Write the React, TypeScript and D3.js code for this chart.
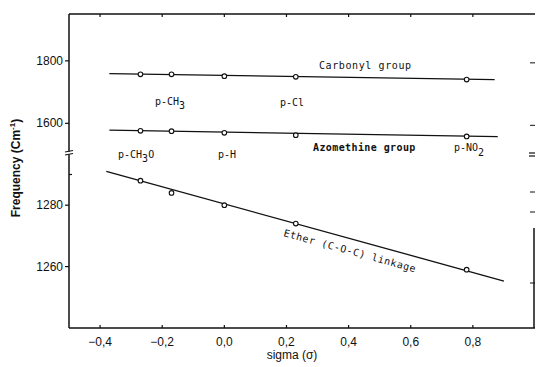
import React from 'react';
import * as d3 from 'd3';

// Hammett sigma constants of the substituents
const substituents = ['p-CH3O', 'p-CH3', 'p-H', 'p-Cl', 'p-NO2'];
const sigma = [-0.27, -0.17, 0.0, 0.23, 0.78];

// frequencies (cm-1)
const carbonyl = [1757, 1757, 1751, 1749, 1740];
const azomethine = [1576, 1575, 1569.5, 1562, 1558];
const ether = [1288, 1284, 1280, 1274, 1259];

// ends of the drawn straight lines [sigma, freq]
const carbonylFit = [[-0.37, 1759], [0.87, 1740]];
const azomethineFit = [[-0.37, 1578], [0.88, 1557.5]];
const etherFit = [[-0.38, 1291], [0.9, 1255.3]];

const xTicks = [-0.4, -0.2, 0.0, 0.2, 0.4, 0.6, 0.8];
const upperTicks = [1800, 1600];
const lowerTicks = [1280, 1260];
const lowerMinor = [1290];

const W = 536;
const H = 367;
const left = 69, right = 535, top = 14, bottom = 328, breakY = 153;

const App = () => {
  const x = d3.scaleLinear().domain([-0.5, 1.0]).range([left, right]);
  const yUp = d3.scaleLinear().domain([1505, 1950]).range([breakY, top]);
  const yLow = d3.scaleLinear().domain([1240, 1297]).range([bottom, breakY]);

  const fmt = (v: number) => (v === 0 ? '0,0' : d3.format('.1f')(v).replace('.', ',').replace('-', '-'));
  const line = (y: d3.ScaleLinear<number, number>) =>
    d3.line<number[]>().x(d => x(d[0])).y(d => y(d[1]));

  const ang = (Math.atan2(yLow(etherFit[1][1]) - yLow(etherFit[0][1]), x(etherFit[1][0]) - x(etherFit[0][0])) * 180) / Math.PI;

  const mono = { fontFamily: '"DejaVu Sans Mono", monospace', fontSize: 10, fill: '#111' };
  const sans = { fontFamily: '"Liberation Sans", Arial, sans-serif', fontSize: 12, fill: '#111' };

  const series = [
    { vals: carbonyl, fit: carbonylFit, y: yUp },
    { vals: azomethine, fit: azomethineFit, y: yUp },
    { vals: ether, fit: etherFit, y: yLow },
  ];

  return (
    <svg width={W} height={H} style={{ position: 'absolute', left: 0, top: 0, background: '#fff' }}>
      {/* frame */}
      <g stroke="#111" fill="none">
        <line x1={left} y1={top} x2={right} y2={top} strokeWidth={1.5} />
        <line x1={left} y1={bottom} x2={right} y2={bottom} strokeWidth={1.5} />
        <line x1={left} y1={top} x2={left} y2={bottom} strokeWidth={1.5} />
        <line x1={right - 1} y1={228} x2={right - 1} y2={bottom} strokeWidth={1.5} />
      </g>

      {/* x ticks */}
      {xTicks.map(t => (
        <g key={t}>
          <line x1={x(t)} x2={x(t)} y1={bottom} y2={bottom - 3} stroke="#111" strokeWidth={1.2} />
          <line x1={x(t)} x2={x(t)} y1={top} y2={top + 3} stroke="#111" strokeWidth={1.2} />
          <text x={x(t)} y={346} textAnchor="middle" style={sans}>{fmt(t)}</text>
        </g>
      ))}
      <text x={292} y={359} textAnchor="middle" style={sans}>sigma (σ)</text>

      {/* y ticks, upper part */}
      {upperTicks.map(t => (
        <g key={t}>
          <line x1={left - 4} x2={left} y1={yUp(t)} y2={yUp(t)} stroke="#111" strokeWidth={1.2} />
          <line x1={right - 5} x2={right} y1={yUp(t) + 2} y2={yUp(t) + 2} stroke="#111" strokeWidth={1} />
          <text x={left - 6} y={yUp(t) + 4} textAnchor="end" style={sans}>{t}</text>
        </g>
      ))}
      {/* y ticks, lower part */}
      {lowerTicks.map(t => (
        <g key={t}>
          <line x1={left - 4} x2={left} y1={yLow(t)} y2={yLow(t)} stroke="#111" strokeWidth={1.2} />
          <text x={left - 6} y={yLow(t) + 4} textAnchor="end" style={sans}>{t}</text>
        </g>
      ))}
      {lowerMinor.map(t => (
        <line key={t} x1={left} x2={left + 3} y1={yLow(t)} y2={yLow(t)} stroke="#111" strokeWidth={1.2} />
      ))}
      {[192, 212, 283].map(v => (
        <line key={v} x1={right - 5} x2={right} y1={v} y2={v} stroke="#111" strokeWidth={1} />
      ))}

      {/* axis break */}
      <g stroke="#111" strokeWidth={1.2}>
        <rect x={left - 4} y={breakY - 1.5} width={8} height={3} fill="#fff" stroke="none" />
        <line x1={left - 4} y1={breakY - 1} x2={left + 4} y2={breakY - 2.5} />
        <line x1={left - 4} y1={breakY + 2} x2={left + 4} y2={breakY + 0.5} />
        <line x1={right - 6} y1={breakY} x2={right} y2={breakY} />
        <line x1={right - 6} y1={breakY + 3} x2={right} y2={breakY + 3} />
      </g>

      <text transform="translate(20,168) rotate(-90)" textAnchor="middle"
        style={{ ...sans, fontWeight: 'bold', fontSize: 12 }}>
        Frequency (Cm<tspan dy={-5} fontSize={8}>-1</tspan><tspan dy={5}>)</tspan>
      </text>

      {/* lines and points */}
      {series.map((s, i) => (
        <g key={i}>
          <path d={line(s.y)(s.fit) || ''} stroke="#111" strokeWidth={1.3} fill="none" />
          {s.vals.map((v, j) => (
            <circle key={j} cx={x(sigma[j])} cy={s.y(v)} r={2.3} fill="#fff" stroke="#111" strokeWidth={1.1} />
          ))}
        </g>
      ))}

      {/* annotations */}
      <text x={319} y={69} style={{ ...mono, letterSpacing: 0.6 }}>Carbonyl group</text>
      <text x={313} y={151} style={{ ...mono, fontWeight: 'bold', letterSpacing: 0.4 }}>Azomethine group</text>
      <text x={155} y={105} style={mono}>p-CH<tspan dy={4}>3</tspan></text>
      <text x={280} y={106} style={mono}>p-Cl</text>
      <text x={118} y={158} style={mono}>{substituents[0].slice(0, 4)}<tspan dy={4}>3</tspan><tspan dy={-4}>O</tspan></text>
      <text x={218} y={158} style={mono}>{substituents[2]}</text>
      <text x={454} y={151} style={mono}>p-NO<tspan dy={5}>2</tspan></text>
      <text transform={`translate(283,236) rotate(${ang})`} style={{ ...mono, letterSpacing: 0.5 }}>
        Ether (C-O-C) linkage
      </text>
    </svg>
  );
};

export default App;
